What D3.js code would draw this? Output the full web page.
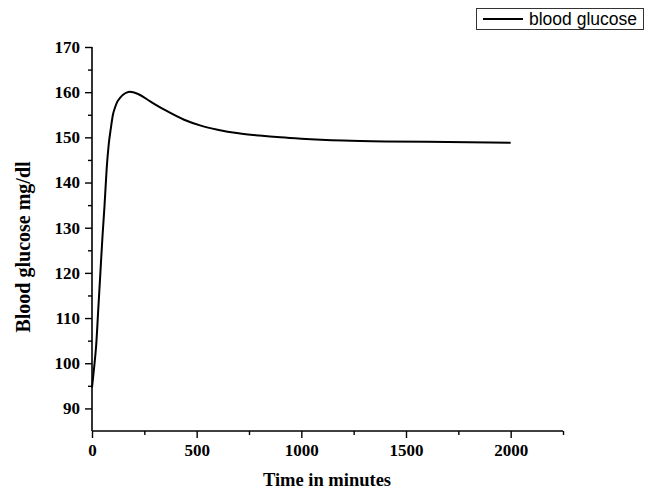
<!DOCTYPE html>
<html>
<head>
<meta charset="utf-8">
<script src="https://cdn.jsdelivr.net/npm/d3@7"></script>
<style>
  body { margin: 0; background: #fff; }
  svg { display: block; }
</style>
</head>
<body>
<svg id="chart" width="655" height="493"></svg>
<script>
// Data
const timeMinutes = [0, 10, 20, 30, 40, 50, 60, 70, 80, 90, 100, 110, 120, 135, 150, 165, 180, 220, 280, 350, 440, 520, 600, 700, 800, 900, 1000, 1200, 1400, 1600, 1800, 2000];
const glucose     = [94.6, 99, 104, 112, 120, 128, 135, 143, 148.5, 152, 155, 156.6, 157.8, 158.8, 159.5, 159.9, 160.1, 159.6, 157.9, 156, 153.9, 152.6, 151.7, 150.9, 150.4, 150.0, 149.7, 149.3, 149.1, 149.0, 148.9, 148.8];
const xMajorTicks = [0, 500, 1000, 1500, 2000];
const xMinorTicks = [250, 750, 1250, 1750, 2250];
const yMajorTicks = [90, 100, 110, 120, 130, 140, 150, 160, 170];
const yMinorTicks = [95, 105, 115, 125, 135, 145, 155, 165];
const seriesName = "blood glucose";
const xTitle = "Time in minutes";
const yTitle = "Blood glucose mg/dl";

const svg = d3.select("#chart");
const plotLeft = 92, plotRight = 563, plotTop = 47, plotBottom = 431;

const x = d3.scaleLinear().domain([0, 2250]).range([plotLeft, plotRight]);
const y = d3.scaleLinear().domain([85, 170]).range([plotBottom, plotTop]);

const serif = "'Liberation Serif', 'Times New Roman', serif";
const fmt = d3.format("d");

// Y axis
const yAxisG = svg.append("g").attr("transform", `translate(${plotLeft},0)`);
yAxisG.call(d3.axisLeft(y).tickValues(yMajorTicks).tickFormat(fmt).tickSize(7).tickPadding(5).tickSizeOuter(0));
yAxisG.append("g").call(d3.axisLeft(y).tickValues(yMinorTicks).tickSize(4).tickFormat("").tickSizeOuter(0));
yAxisG.selectAll(".domain").remove();
yAxisG.append("line").attr("x1", 0).attr("x2", 0).attr("y1", y(170)).attr("y2", y(85))
  .attr("stroke", "#000").attr("stroke-width", 1.6);

// X axis
const xAxisG = svg.append("g").attr("transform", `translate(0,${plotBottom})`);
xAxisG.call(d3.axisBottom(x).tickValues(xMajorTicks).tickFormat(fmt).tickSize(7).tickPadding(6).tickSizeOuter(0));
xAxisG.append("g").call(d3.axisBottom(x).tickValues(xMinorTicks).tickSize(4).tickFormat("").tickSizeOuter(0));
xAxisG.selectAll(".domain").remove();
xAxisG.append("line").attr("x1", x(0)).attr("x2", x(2250)).attr("y1", 0).attr("y2", 0)
  .attr("stroke", "#000").attr("stroke-width", 1.6);

svg.selectAll(".tick line").attr("stroke", "#000").attr("stroke-width", 1.4);
svg.selectAll(".tick text")
  .attr("font-family", serif).attr("font-weight", "bold").attr("font-size", 17).attr("fill", "#000");

// Line
const pts = timeMinutes.map((t, i) => [t, glucose[i]]);
svg.append("path")
  .datum(pts)
  .attr("fill", "none")
  .attr("stroke", "#000")
  .attr("stroke-width", 2)
  .attr("d", d3.line().x(d => x(d[0])).y(d => y(d[1])).curve(d3.curveMonotoneX));

// Axis titles
svg.append("text")
  .attr("x", 327).attr("y", 486)
  .attr("text-anchor", "middle")
  .attr("font-family", serif).attr("font-weight", "bold").attr("font-size", 18.5)
  .text(xTitle);

svg.append("text")
  .attr("transform", "translate(30,247) rotate(-90)")
  .attr("text-anchor", "middle")
  .attr("font-family", serif).attr("font-weight", "bold").attr("font-size", 20)
  .text(yTitle);

// Legend
const lg = svg.append("g");
lg.append("rect").attr("x", 476.5).attr("y", 8.5).attr("width", 167).attr("height", 21)
  .attr("fill", "#fff").attr("stroke", "#333").attr("stroke-width", 1);
lg.append("line").attr("x1", 483).attr("x2", 523).attr("y1", 19).attr("y2", 19)
  .attr("stroke", "#000").attr("stroke-width", 2);
lg.append("text").attr("x", 529).attr("y", 25)
  .attr("font-family", "'Liberation Sans', Arial, sans-serif").attr("font-size", 17.5)
  .attr("fill", "#000")
  .text(seriesName);
</script>
</body>
</html>
